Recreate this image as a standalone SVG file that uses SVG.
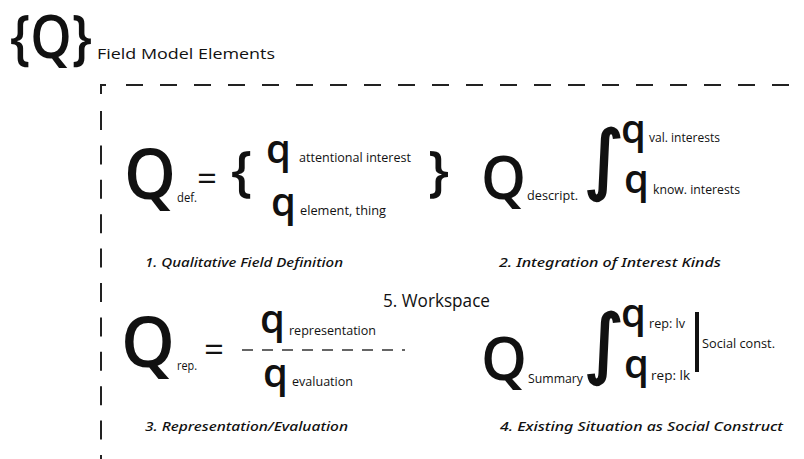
<svg xmlns="http://www.w3.org/2000/svg" width="804" height="459" viewBox="0 0 804 459">
<style>
.m{font-family:"Open Sans","Liberation Sans",sans-serif;fill:#111}
.b{font-weight:600}
.s{font-family:"Open Sans","Liberation Sans",sans-serif;fill:#111;font-size:12px}
.cap{font-family:"Noto Sans","DejaVu Sans",sans-serif;font-style:italic;font-weight:500;font-size:13px;fill:#111}
.int{font-family:"DejaVu Sans",sans-serif;fill:#111;stroke:#111;stroke-width:2.2;font-size:76px}
.fr{stroke:#222;stroke-width:2;fill:none}
</style>
<rect width="804" height="459" fill="#fff"/>
<g id="title">
<text class="m b" x="10" y="58" font-size="60" textLength="82" lengthAdjust="spacingAndGlyphs">{Q}</text>
<text class="m" x="97" y="59" font-size="15" textLength="178" lengthAdjust="spacingAndGlyphs">Field Model Elements</text>
</g>
<g id="frame">
<path class="fr" d="M106,85 H101 V94"/>
<line class="fr" x1="126" y1="85" x2="804" y2="85" stroke-dasharray="17 17"/>
<line class="fr" x1="101" y1="111" x2="101" y2="459" stroke-dasharray="19 15.4"/>
</g>
<g id="def">
<text class="m b" x="124" y="199" font-size="70" textLength="52" lengthAdjust="spacingAndGlyphs">Q</text>
<text class="s" x="177" y="202" textLength="20" lengthAdjust="spacingAndGlyphs">def.</text>
<text class="m" x="197" y="191" font-size="34" textLength="20" lengthAdjust="spacingAndGlyphs">=</text>
<text class="m b" x="231" y="190" font-size="55">{</text>
<text class="m b" x="266" y="163" font-size="40">q</text>
<text class="s" x="299" y="162" textLength="112" lengthAdjust="spacingAndGlyphs">attentional interest</text>
<text class="m b" x="271" y="216" font-size="40">q</text>
<text class="s" x="300" y="215" textLength="86" lengthAdjust="spacingAndGlyphs">element, thing</text>
<text class="m b" x="428" y="190" font-size="55">}</text>
<text class="cap" x="145" y="267" textLength="198" lengthAdjust="spacingAndGlyphs">1. Qualitative Field Definition</text>
</g>
<g id="descript">
<text class="m b" x="481" y="199" font-size="60" textLength="45" lengthAdjust="spacingAndGlyphs">Q</text>
<text class="s" x="527" y="200" textLength="51" lengthAdjust="spacingAndGlyphs">descript.</text>
<text class="int" x="584" y="185">∫</text>
<text class="m b" x="621" y="143" font-size="40">q</text>
<text class="s" x="649" y="142" textLength="71" lengthAdjust="spacingAndGlyphs">val. interests</text>
<text class="m b" x="624" y="193" font-size="40">q</text>
<text class="s" x="653" y="194" textLength="87" lengthAdjust="spacingAndGlyphs">know. interests</text>
<text class="cap" x="499" y="267" textLength="222" lengthAdjust="spacingAndGlyphs">2. Integration of Interest Kinds</text>
</g>
<g id="rep">
<text class="m b" x="121" y="367" font-size="70" textLength="54" lengthAdjust="spacingAndGlyphs">Q</text>
<text class="s" x="177" y="370" textLength="20" lengthAdjust="spacingAndGlyphs">rep.</text>
<text class="m" x="204" y="362" font-size="34" textLength="20" lengthAdjust="spacingAndGlyphs">=</text>
<line x1="242" y1="350" x2="405" y2="350" stroke="#333" stroke-width="1.3" stroke-dasharray="11 9"/>
<text class="m b" x="260" y="333" font-size="40">q</text>
<text class="s" x="289" y="335" textLength="87" lengthAdjust="spacingAndGlyphs">representation</text>
<text class="m b" x="263" y="387" font-size="40">q</text>
<text class="s" x="292" y="386" textLength="61" lengthAdjust="spacingAndGlyphs">evaluation</text>
<text class="cap" x="145" y="431" textLength="203" lengthAdjust="spacingAndGlyphs">3. Representation/Evaluation</text>
</g>
<g id="workspace">
<text class="m" x="383" y="307" font-size="18" textLength="107" lengthAdjust="spacingAndGlyphs">5. Workspace</text>
</g>
<g id="summary">
<text class="m b" x="481" y="380" font-size="60" textLength="46" lengthAdjust="spacingAndGlyphs">Q</text>
<text class="s" x="528" y="383" textLength="55" lengthAdjust="spacingAndGlyphs">Summary</text>
<text class="int" x="584" y="369">∫</text>
<text class="m b" x="621" y="327" font-size="40">q</text>
<text class="s" x="649" y="328" textLength="36" lengthAdjust="spacingAndGlyphs">rep: lv</text>
<text class="m b" x="624" y="378" font-size="40">q</text>
<text class="s" x="651" y="380" textLength="39" lengthAdjust="spacingAndGlyphs">rep: lk</text>
<rect x="695" y="312" width="4" height="60" fill="#111"/>
<text class="s" x="702" y="348" textLength="73" lengthAdjust="spacingAndGlyphs">Social const.</text>
<text class="cap" x="500" y="431" textLength="283" lengthAdjust="spacingAndGlyphs">4. Existing Situation as Social Construct</text>
</g>
</svg>
